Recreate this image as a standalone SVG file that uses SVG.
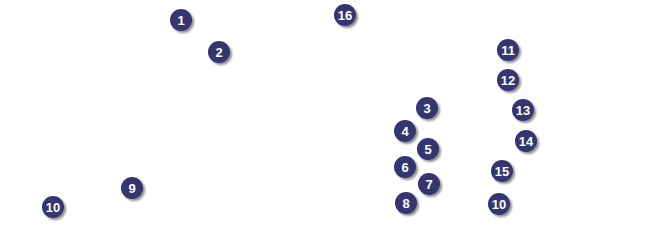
<svg xmlns="http://www.w3.org/2000/svg" width="647" height="227" viewBox="0 0 647 227">
<defs>
<filter id="sh" x="-50%" y="-50%" width="200%" height="200%">
<feGaussianBlur in="SourceAlpha" stdDeviation="1.2"/>
<feOffset dx="2" dy="2" result="b"/>
<feComponentTransfer><feFuncA type="linear" slope="0.45"/></feComponentTransfer>
<feMerge><feMergeNode/><feMergeNode in="SourceGraphic"/></feMerge>
</filter>
</defs>
<style>
.n circle{fill:#343470;filter:url(#sh)}
.n text{fill:#fff;font-family:"Liberation Sans",Arial,sans-serif;font-weight:bold;font-size:13px;text-anchor:middle;dominant-baseline:central}
</style>
<rect width="647" height="227" fill="#fff"/>
<g id="connectors"/>
<g id="n1" class="n"><circle cx="181" cy="20" r="11"/><text x="181" y="20.5">1</text></g>
<g id="n2" class="n"><circle cx="219" cy="52" r="11"/><text x="219" y="52.5">2</text></g>
<g id="n16" class="n"><circle cx="345" cy="15" r="11"/><text x="345" y="15.5">16</text></g>
<g id="n3" class="n"><circle cx="427" cy="108" r="11"/><text x="427" y="108.5">3</text></g>
<g id="n4" class="n"><circle cx="405" cy="131" r="11"/><text x="405" y="131.5">4</text></g>
<g id="n5" class="n"><circle cx="428" cy="149" r="11"/><text x="428" y="149.5">5</text></g>
<g id="n6" class="n"><circle cx="405" cy="167" r="11"/><text x="405" y="167.5">6</text></g>
<g id="n7" class="n"><circle cx="429" cy="184" r="11"/><text x="429" y="184.5">7</text></g>
<g id="n8" class="n"><circle cx="406" cy="203" r="11"/><text x="406" y="203.5">8</text></g>
<g id="n11" class="n"><circle cx="508" cy="50" r="11"/><text x="508" y="50.5">11</text></g>
<g id="n12" class="n"><circle cx="508" cy="80" r="11"/><text x="508" y="80.5">12</text></g>
<g id="n13" class="n"><circle cx="523" cy="110" r="11"/><text x="523" y="110.5">13</text></g>
<g id="n14" class="n"><circle cx="526" cy="141" r="11"/><text x="526" y="141.5">14</text></g>
<g id="n15" class="n"><circle cx="502" cy="171" r="11"/><text x="502" y="171.5">15</text></g>
<g id="n10b" class="n"><circle cx="499" cy="204" r="11"/><text x="499" y="204.5">10</text></g>
<g id="n9" class="n"><circle cx="132" cy="188" r="11"/><text x="132" y="188.5">9</text></g>
<g id="n10a" class="n"><circle cx="53" cy="207" r="11"/><text x="53" y="207.5">10</text></g>
</svg>
